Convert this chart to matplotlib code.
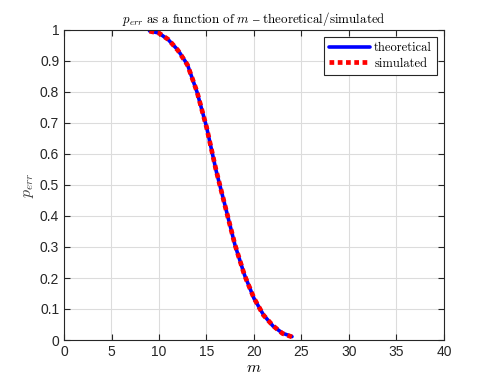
import matplotlib.pyplot as plt

plt.rcParams['font.family'] = ['Liberation Sans', 'DejaVu Sans']
plt.rcParams['mathtext.fontset'] = 'cm'
plt.rcParams['axes.formatter.use_mathtext'] = False

# valores
m = [9, 10, 11, 12, 13, 14, 15, 16, 17, 18, 19, 20, 21, 22, 23, 24]
p_teo = [0.997, 0.99, 0.968, 0.935, 0.888, 0.80, 0.688, 0.548, 0.428, 0.306,
         0.21, 0.134, 0.081, 0.045, 0.022, 0.011]
p_sim = [0.996, 0.99, 0.969, 0.934, 0.887, 0.801, 0.687, 0.549, 0.427, 0.307,
         0.209, 0.135, 0.080, 0.046, 0.021, 0.010]

fig = plt.figure(figsize=(4.91, 3.82), dpi=100)
ax = fig.add_axes([64/491, 42/382, 380/491, 310/382])

ax.plot(m, p_teo, color='blue', linewidth=2.6, solid_capstyle='round',
        solid_joinstyle='round', label='theoretical')
ax.plot(m, p_sim, color='red', linewidth=3.4, linestyle=(0, (1, 0.75)),
        dash_capstyle='butt', label='simulated')

ax.set_xlim(0, 40)
ax.set_ylim(0, 1)
ax.set_xticks(range(0, 41, 5))
ax.set_yticks([i/10 for i in range(11)])
ax.set_yticklabels(['0', '0.1', '0.2', '0.3', '0.4', '0.5', '0.6', '0.7', '0.8', '0.9', '1'])
ax.grid(True, color='#dcdcdc', linewidth=0.8)
ax.set_axisbelow(True)
ax.tick_params(direction='in', top=True, right=True, length=4, width=0.8,
               colors='#262626', labelsize=10, labelcolor='#262626')
for s in ax.spines.values():
    s.set_color('#262626')
    s.set_linewidth(0.8)

titulo = (r'$p_{err}\ \mathrm{as\ a\ function\ of}\ m\ \mathrm{' + '\u2013'
          + r'\ theoretical/simulated}$')
ax.set_title(titulo, fontsize=9.4, pad=5)
ax.set_xlabel(r'$m$', fontsize=11.5, labelpad=1)
ax.set_ylabel(r'$p_{err}$', fontsize=11.5, labelpad=3, color='#404040')

leg = ax.legend(loc='upper right', fancybox=False, edgecolor='#262626',
                framealpha=1, handlelength=3.3, borderaxespad=0.55,
                borderpad=0.4, labelspacing=0.3, handletextpad=0.3,
                prop={'family': 'cmr10', 'size': 9})
leg.get_frame().set_linewidth(0.8)

fig.savefig('out.png', dpi=100)
